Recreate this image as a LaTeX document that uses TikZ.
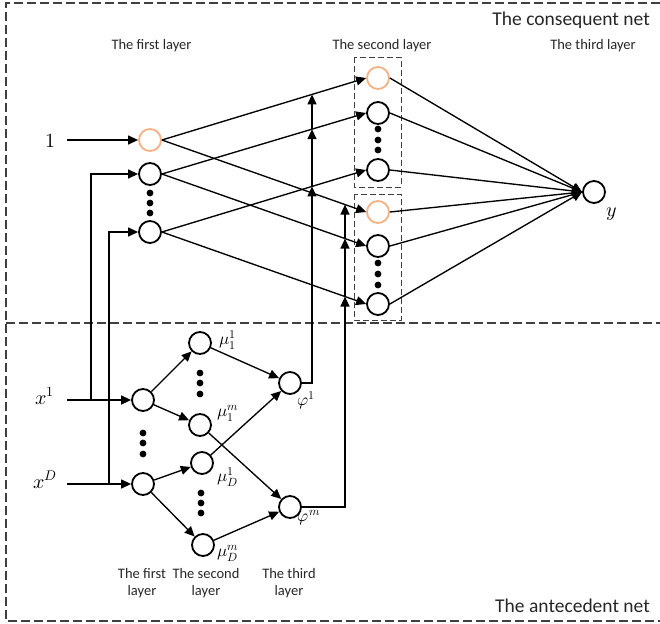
\documentclass[tikz,border=0pt]{standalone}
\usepackage{fontspec}
\usepackage{unicode-math}
\setmainfont{Carlito}
\setmathfont{Latin Modern Math}
\usetikzlibrary{arrows.meta,calc,intersections}
\definecolor{peach}{HTML}{F4B183}
\definecolor{frame}{HTML}{404040}

\tikzset{
  neuron/.style={circle,draw,line width=1.8pt,minimum size=22pt,inner sep=0pt},
  bias/.style={neuron,draw=peach},
  conn/.style={line width=1.35pt},
  arr/.style={conn,-{Triangle[length=10pt,width=9pt]}},
  region/.style={draw=frame,line width=1.1pt,dash pattern=on 9pt off 4pt},
  groupbox/.style={draw=frame,line width=0.9pt,dash pattern=on 6pt off 3pt},
  lbl/.style={font=\fontsize{14.5}{17}\selectfont,text=black!85,inner sep=0pt},
  title/.style={font=\fontsize{19.5}{22}\selectfont,text=black!85,inner sep=0pt},
  mathlbl/.style={font=\fontsize{20}{22}\selectfont,inner sep=0pt},
  smath/.style={font=\fontsize{17}{19}\selectfont,inner sep=0pt},
}

\begin{document}
\begin{tikzpicture}[x=1pt,y=-1pt]
\useasboundingbox (0,0) rectangle (660,623);

% region frames
\draw[region] (660,3) -- (6,3) -- (6,621) -- (660,621);
\draw[region] (6,323) -- (660,323);

% ---------- consequent net ----------
\node[bias]   (L1o) at (150,140) {};
\node[neuron] (L1b) at (150,174) {};
\node[neuron] (L1c) at (150,232) {};
\node[bias]   (G1a) at (378,78) {};
\node[neuron] (G1b) at (378,113) {};
\node[neuron] (G1c) at (378,170) {};
\node[bias]   (G2a) at (378,212) {};
\node[neuron] (G2b) at (378,246) {};
\node[neuron] (G2c) at (378,304) {};
\node[neuron] (Y)   at (594,192) {};

\draw[groupbox] (354,57) rectangle (401,187);
\draw[groupbox] (354,194) rectangle (401,320);

\foreach \y in {193,203,213} \fill (150,\y) circle (3.4pt);
\foreach \y in {129,140,150} \fill (378,\y) circle (3.4pt);
\foreach \y in {263,274,285} \fill (378,\y) circle (3.4pt);

\node[lbl,anchor=base] (c1) at (151.5,50) {The first layer};
\node[lbl,anchor=base] (c2) at (382,50) {The second layer};
\node[lbl,anchor=base] (c3) at (593,50) {The third layer};
\node[title,anchor=base east] (tc) at (650,26) {The consequent net};

\node[mathlbl,anchor=base] (one) at (50,147) {$1$};
\node[mathlbl] (ly) at (612,214) {$y$};

\coordinate (os) at (67,140);
\draw[arr] (os) -- (L1o);

\foreach \s/\t in {L1o/G1a,L1o/G2a,L1b/G1b,L1b/G2b,L1c/G1c,L1c/G2c}
  \draw[arr,name path=e\s\t] (\s.east) -- (\t.west);
\foreach \s in {G1a,G1b,G1c,G2a,G2b,G2c}
  \draw[arr] (\s.east) -- (Y.west);

% ---------- antecedent net ----------
\node[neuron] (A1)  at (143,400) {};
\node[neuron] (AD)  at (143,484) {};
\node[neuron] (M11) at (200,343) {};
\node[neuron] (M1m) at (200,425) {};
\node[neuron] (MD1) at (202,463) {};
\node[neuron] (MDm) at (203,545) {};
\node[neuron] (P1)  at (290,383) {};
\node[neuron] (Pm)  at (290,507) {};

\foreach \y in {433,443,454} \fill (143,\y) circle (3.4pt);
\foreach \y in {373,383,394} \fill (200,\y) circle (3.4pt);
\foreach \y in {493,503,513} \fill (201,\y) circle (3.4pt);

\node[mathlbl,anchor=base] (x1) at (45,404) {$x^1$};
\node[mathlbl,anchor=base] (xD) at (45,488) {$x^D$};

\node[smath] (lm11) at (228,340) {$\mu_1^1$};
\node[smath] (lm1m) at (228,413) {$\mu_1^m$};
\node[smath] (lmD1) at (228,477) {$\mu_D^1$};
\node[smath] (lmDm) at (228,553) {$\mu_D^m$};
\node[smath] (lp1)  at (306,400) {$\varphi^1$};
\node[smath] (lpm)  at (309,518) {$\varphi^m$};

\node[lbl,anchor=base] (b1a) at (142,578) {The first};
\node[lbl,anchor=base] (b1b) at (142,595) {layer};
\node[lbl,anchor=base] (b2a) at (206,578) {The second};
\node[lbl,anchor=base] (b2b) at (206,595) {layer};
\node[lbl,anchor=base] (b3a) at (289,578) {The third};
\node[lbl,anchor=base] (b3b) at (289,595) {layer};
\node[title,anchor=base east] (ta) at (650,612) {The antecedent net};

% inputs
\coordinate (x1s) at (67,400);
\coordinate (xDs) at (67,484);
\coordinate (j1) at (91,400);
\coordinate (jD) at (109,484);
\draw[arr] (x1s) -- (A1);
\draw[arr] (xDs) -- (AD);
\draw[arr] (j1) |- (L1b);
\draw[arr] (jD) |- (L1c);

\draw[arr] (A1) -- (M11);
\draw[arr] (A1) -- (M1m);
\draw[arr] (AD) -- (MD1);
\draw[arr] (AD) -- (MDm);
\draw[arr] (M11) -- (P1);
\draw[arr] (MD1) -- (P1);
\draw[arr] (M1m) -- (Pm);
\draw[arr] (MDm) -- (Pm);

% firing strengths feeding the consequent edges
\coordinate (v1b) at (312,383);
\coordinate (vmb) at (345,507);
\path[name path=v1] (v1b) -- (312,0);
\path[name path=vm] (vmb) -- (345,0);
\path[name intersections={of=v1 and eL1oG1a,by=i1a}];
\path[name intersections={of=v1 and eL1bG1b,by=i1b}];
\path[name intersections={of=v1 and eL1cG1c,by=i1c}];
\path[name intersections={of=vm and eL1oG2a,by=ima}];
\path[name intersections={of=vm and eL1bG2b,by=imb}];
\path[name intersections={of=vm and eL1cG2c,by=imc}];

\draw[arr] (P1.east) -- (v1b) -- (i1c);
\draw[arr] (i1c) -- (i1b);
\draw[arr] (i1b) -- (i1a);
\draw[arr] (Pm.east) -- (vmb) -- (imc);
\draw[arr] (imc) -- (imb);
\draw[arr] (imb) -- (ima);
\end{tikzpicture}
\end{document}
